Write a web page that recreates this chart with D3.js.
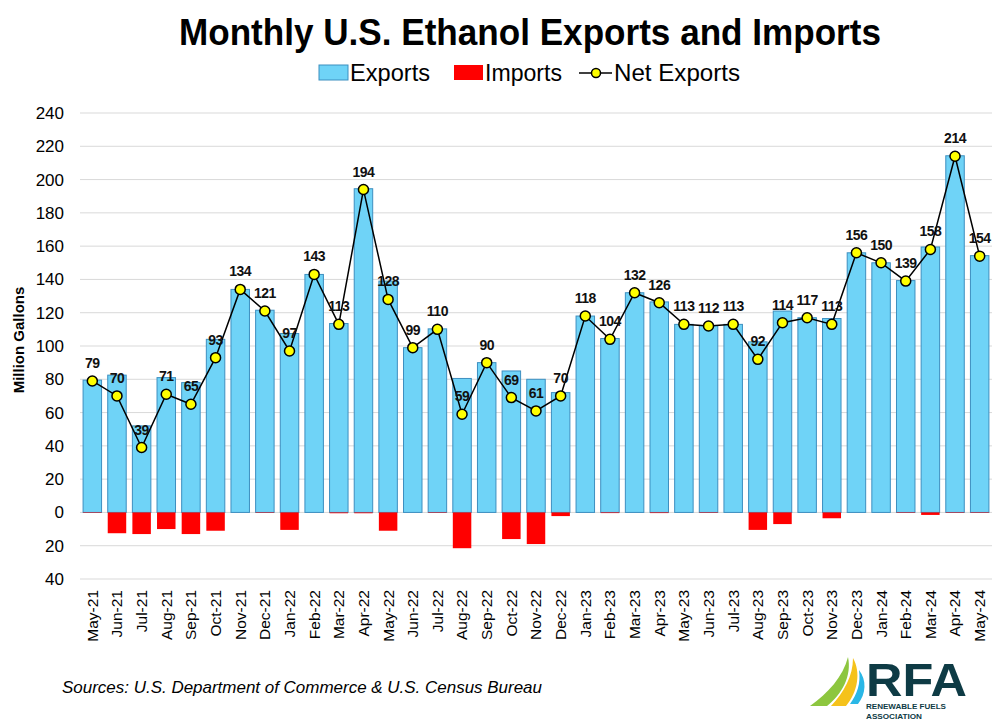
<!DOCTYPE html>
<html>
<head>
<meta charset="utf-8">
<script src="https://cdn.jsdelivr.net/npm/d3@7"></script>
<style>
 body { margin: 0; background: #fff; }
 svg { display: block; }
</style>
</head>
<body>
<svg id="chart" width="1000" height="725"></svg>
<script>
// monthly values, million gallons
var months = ["May-21","Jun-21","Jul-21","Aug-21","Sep-21","Oct-21","Nov-21","Dec-21",
 "Jan-22","Feb-22","Mar-22","Apr-22","May-22","Jun-22","Jul-22","Aug-22","Sep-22","Oct-22","Nov-22","Dec-22",
 "Jan-23","Feb-23","Mar-23","Apr-23","May-23","Jun-23","Jul-23","Aug-23","Sep-23","Oct-23","Nov-23","Dec-23",
 "Jan-24","Feb-24","Mar-24","Apr-24","May-24"];

var exportsVals = [79.5, 82.5, 52, 81, 78, 104, 134, 121.5,
 107.5, 143, 113.5, 194.5, 139, 99, 110.3, 80.5, 90, 85, 80, 72,
 118, 104.5, 132, 126.5, 113, 112.3, 113, 102.5, 121, 117, 116.5, 156,
 150, 139.3, 159.5, 214.3, 154.3];

var importsVals = [0.3, 12.5, 13, 10, 13, 11, 0, 0.3,
 10.5, 0, 0.5, 0.5, 11, 0, 0.3, 21.5, 0, 16, 19, 2.2,
 0, 0.4, 0, 0.4, 0, 0.3, 0, 10.5, 7, 0, 3.5, 0,
 0, 0.3, 1.5, 0.3, 0.3];

var netVals = [79, 70, 39, 71, 65, 93, 134, 121,
 97, 143, 113, 194, 128, 99, 110, 59, 90, 69, 61, 70,
 118, 104, 132, 126, 113, 112, 113, 92, 114, 117, 113, 156,
 150, 139, 158, 214, 154];

var yTicks = [-40, -20, 0, 20, 40, 60, 80, 100, 120, 140, 160, 180, 200, 220, 240];

var svg = d3.select("#chart");
var narrow = "'Liberation Sans Narrow', 'Arial Narrow', 'Liberation Sans', Arial, sans-serif";
var sans = "'Liberation Sans', Arial, Helvetica, sans-serif";

var x = d3.scaleBand()
 .domain(months)
 .range([80, 992])
 .paddingInner(0.25)
 .paddingOuter(0.125);

var y = d3.scaleLinear()
 .domain([-40, 240])
 .range([579, 113]);

// title
svg.append("text")
 .attr("x", 530).attr("y", 45)
 .attr("text-anchor", "middle")
 .attr("textLength", 702)
 .attr("lengthAdjust", "spacingAndGlyphs")
 .style("font-family", narrow)
 .style("font-weight", "bold")
 .style("font-size", "37px")
 .text("Monthly U.S. Ethanol Exports and Imports");

// legend
var leg = svg.append("g").style("font-family", narrow).style("font-size", "23px");
leg.append("rect").attr("x", 319).attr("y", 65).attr("width", 29).attr("height", 15)
 .attr("fill", "#6fd3f7").attr("stroke", "#3d8fc0").attr("stroke-width", 1);
leg.append("text").attr("x", 350).attr("y", 81).attr("textLength", 80).attr("lengthAdjust", "spacingAndGlyphs").text("Exports");
leg.append("rect").attr("x", 454).attr("y", 65).attr("width", 29).attr("height", 15)
 .attr("fill", "#ff0000");
leg.append("text").attr("x", 485).attr("y", 81).attr("textLength", 77).attr("lengthAdjust", "spacingAndGlyphs").text("Imports");
leg.append("line").attr("x1", 579).attr("x2", 612).attr("y1", 73).attr("y2", 73)
 .attr("stroke", "#000").attr("stroke-width", 1.5);
leg.append("circle").attr("cx", 596).attr("cy", 73).attr("r", 4.5)
 .attr("fill", "#ffff00").attr("stroke", "#000").attr("stroke-width", 1.5);
leg.append("text").attr("x", 614).attr("y", 81).attr("textLength", 126).attr("lengthAdjust", "spacingAndGlyphs").text("Net Exports");

// gridlines
svg.append("g")
 .selectAll("line")
 .data(yTicks)
 .enter().append("line")
 .attr("x1", 80).attr("x2", 992)
 .attr("y1", function(d) { return y(d); })
 .attr("y2", function(d) { return y(d); })
 .attr("stroke", "#d9d9d9")
 .attr("stroke-width", 1);

// y axis
var yAxis = d3.axisLeft(y)
 .tickValues(yTicks)
 .tickSize(0)
 .tickPadding(0)
 .tickFormat(function(d) { return Math.abs(d); });

var yg = svg.append("g")
 .attr("transform", "translate(64,0)")
 .call(yAxis);
yg.select(".domain").remove();
yg.selectAll("text")
 .style("font-family", sans)
 .style("font-size", "17px")
 .attr("fill", "#000");

svg.append("text")
 .attr("transform", "translate(24,340) rotate(-90)")
 .attr("text-anchor", "middle")
 .style("font-family", sans)
 .style("font-weight", "bold")
 .style("font-size", "15px")
 .text("Million Gallons");

// export bars
svg.append("g")
 .selectAll("rect")
 .data(months)
 .enter().append("rect")
 .attr("x", function(d) { return x(d); })
 .attr("width", x.bandwidth())
 .attr("y", function(d, i) { return y(exportsVals[i]); })
 .attr("height", function(d, i) { return y(0) - y(exportsVals[i]); })
 .attr("fill", "#6fd3f7")
 .attr("stroke", "#3d8fc0")
 .attr("stroke-width", 1);

// import bars
svg.append("g")
 .selectAll("rect")
 .data(months)
 .enter().append("rect")
 .attr("x", function(d) { return x(d); })
 .attr("width", x.bandwidth())
 .attr("y", y(0))
 .attr("height", function(d, i) { return y(-importsVals[i]) - y(0); })
 .attr("fill", "#ff0000");

// x axis labels
var xAxis = d3.axisBottom(x).tickSize(0).tickPadding(0);
var xg = svg.append("g")
 .attr("transform", "translate(0,590)")
 .call(xAxis);
xg.select(".domain").remove();
xg.selectAll("text")
 .attr("transform", "rotate(-90)")
 .attr("x", 0)
 .attr("y", 0)
 .attr("dx", 0)
 .attr("dy", "0.35em")
 .attr("text-anchor", "end")
 .style("font-family", sans)
 .style("font-size", "15.5px")
 .attr("fill", "#000");

// net exports line
var cx = function(d, i) { return x(months[i]) + x.bandwidth() / 2; };
var line = d3.line()
 .x(cx)
 .y(function(d) { return y(d); });

svg.append("path")
 .datum(netVals)
 .attr("d", line)
 .attr("fill", "none")
 .attr("stroke", "#000")
 .attr("stroke-width", 1.5);

svg.append("g")
 .selectAll("circle")
 .data(netVals)
 .enter().append("circle")
 .attr("cx", cx)
 .attr("cy", function(d) { return y(d); })
 .attr("r", 5)
 .attr("fill", "#ffff00")
 .attr("stroke", "#000")
 .attr("stroke-width", 1.5);

svg.append("g")
 .selectAll("text")
 .data(netVals)
 .enter().append("text")
 .attr("x", cx)
 .attr("y", function(d) { return y(d) - 13; })
 .attr("text-anchor", "middle")
 .style("font-family", sans)
 .style("font-weight", "bold")
 .style("font-size", "14px")
 .style("letter-spacing", "-0.5px")
 .attr("fill", "#111")
 .text(function(d) { return d; });

// source
svg.append("text")
 .attr("x", 62).attr("y", 693)
 .attr("textLength", 480)
 .attr("lengthAdjust", "spacingAndGlyphs")
 .style("font-family", sans)
 .style("font-style", "italic")
 .style("font-size", "17px")
 .text("Sources: U.S. Department of Commerce & U.S. Census Bureau");

// RFA logo
var logo = svg.append("g");
logo.append("path")
 .attr("d", "M810,706 C828,693 843,677 848,657 C852,676 842,694 827,706 Z")
 .attr("fill", "#8dc63f");
logo.append("path")
 .attr("d", "M831,706 C844,692 853,676 853,658 C861,672 858,692 846,706 Z")
 .attr("fill", "#f5c21b");
logo.append("path")
 .attr("d", "M850,704 C857,694 861,684 859,670 C867,680 866,694 858,704 Z")
 .attr("fill", "#2ab7e6");
logo.append("text")
 .attr("x", 866).attr("y", 696)
 .attr("textLength", 101)
 .attr("lengthAdjust", "spacingAndGlyphs")
 .style("font-family", sans)
 .style("font-weight", "bold")
 .style("font-size", "47px")
 .attr("fill", "#0e3b45")
 .text("RFA");
logo.append("text")
 .attr("x", 866).attr("y", 709)
 .attr("textLength", 80)
 .attr("lengthAdjust", "spacingAndGlyphs")
 .style("font-family", sans)
 .style("font-weight", "bold")
 .style("font-size", "7px")
 .attr("fill", "#0e3b45")
 .text("RENEWABLE FUELS");
logo.append("text")
 .attr("x", 866).attr("y", 718.5)
 .attr("textLength", 56)
 .attr("lengthAdjust", "spacingAndGlyphs")
 .style("font-family", sans)
 .style("font-weight", "bold")
 .style("font-size", "7px")
 .attr("fill", "#0e3b45")
 .text("ASSOCIATION");
</script>
</body>
</html>
